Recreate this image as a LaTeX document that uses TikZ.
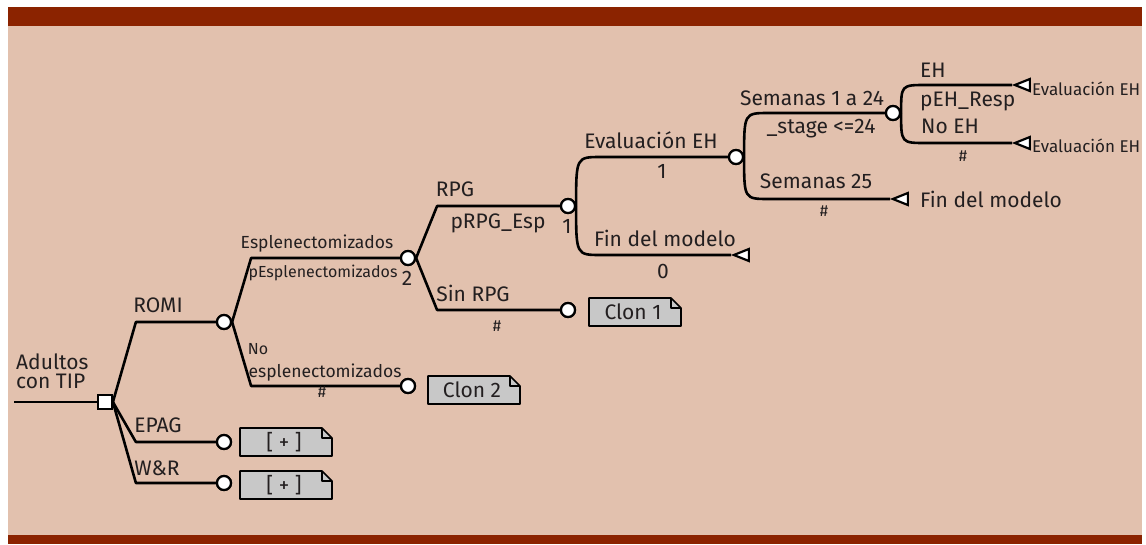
\documentclass[tikz,border=0pt]{standalone}
\usepackage{fontspec}
\setmainfont{Fira Sans}
\usetikzlibrary{shapes.geometric, calc}

\definecolor{framered}{HTML}{8B2300}
\definecolor{bgtan}{HTML}{E2C1AE}
\definecolor{clongray}{HTML}{C8C8C8}
\definecolor{ink}{HTML}{231F20}

\tikzset{
  branch/.style={line width=2.6pt, line join=round, draw=black},
  chance/.style={circle, draw, fill=white, line width=2.2pt, minimum size=14pt, inner sep=0pt},
  decision/.style={rectangle, draw, fill=white, line width=1.8pt, minimum size=14pt, inner sep=0pt},
  terminal/.style={isosceles triangle, isosceles triangle stretches, shape border rotate=180,
    draw, fill=white, line width=2.2pt, minimum width=12pt, minimum height=15pt, inner sep=0pt, anchor=apex},
  % straight elbow: diagonal, then horizontal
  elbow/.style={to path={(\tikztostart.east) -- ([xshift=#1]\tikztostart.east |- \tikztotarget.center) -- (\tikztotarget)}},
  % curved elbow
  bow/.style={to path={(\tikztostart.east) .. controls (\tikztostart.east |- \tikztotarget.center) .. ([xshift=#1]\tikztostart.east |- \tikztotarget.center) -- (\tikztotarget)}},
  lbl/.style={font=\fontsize{21}{23}\selectfont, text=ink, inner sep=0pt, anchor=base},
  lblm/.style={lbl, font=\fontsize{17.5}{19}\selectfont},
  lbls/.style={lbl, font=\fontsize{16}{18}\selectfont},
  lblt/.style={lbl, font=\fontsize{17}{19}\selectfont},
  clonline/.style={draw=black, fill=clongray, line width=1.6pt, line join=round},
}

% clone box: name, position, text
\newcommand{\clonbox}[3]{%
  \coordinate (#1-c) at (#2);
  \filldraw[clonline] ([shift={(-46,14)}]#1-c) -- ([shift={(-46,-14)}]#1-c) -- ([shift={(36,-14)}]#1-c)
    -- ([shift={(46,-4)}]#1-c) -- ([shift={(46,14)}]#1-c) -- cycle;
  \draw[clonline, fill=none] ([shift={(36,-14)}]#1-c) |- ([shift={(46,-4)}]#1-c);
  \node[lbl, anchor=center] (#1) at ([shift={(-2,0)}]#1-c) {#3};}

\begin{document}
\begin{tikzpicture}[x=1pt, y=-1pt]
  \useasboundingbox (0,0) rectangle (1146,544);
  % Frame
  \fill[bgtan] (8,26) rectangle (1142,535);
  \fill[framered] (8,7) rectangle (1142,26);
  \fill[framered] (8,535) rectangle (1142,544);

  % Nodes
  \coordinate (start) at (14,402);
  \node[decision] (dec) at (105,402) {};
  \node[chance] (romi) at (224,322) {};
  \node[chance] (epag) at (224,442) {};
  \node[chance] (wr) at (224,483) {};
  \node[chance] (esp) at (408,258) {};
  \node[chance] (noesp) at (408,386) {};
  \node[chance] (rpg) at (568,206) {};
  \node[chance] (sinrpg) at (568,310) {};
  \node[chance] (ev) at (736,157) {};
  \node[terminal] (fin1) at (731,255) {};
  \node[chance] (sem) at (893,113) {};
  \node[terminal] (fin2) at (890,199) {};
  \node[terminal] (eh) at (1012,85) {};
  \node[terminal] (noeh) at (1012,143) {};

  % Branches
  \draw[branch] (start) -- (dec);
  \foreach \t in {romi, epag, wr} { \draw[branch] (dec) to[elbow=23] (\t); }
  \foreach \t in {esp, noesp} { \draw[branch] (romi) to[elbow=19] (\t); }
  \foreach \t in {rpg, sinrpg} { \draw[branch] (esp) to[elbow=21] (\t); }
  \foreach \t in {ev, fin1} { \draw[branch] (rpg) to[bow=25] (\t); }
  \foreach \t in {sem, fin2} { \draw[branch] (ev) to[bow=25] (\t); }
  \foreach \t in {eh, noeh} { \draw[branch] (sem) to[bow=25] (\t); }
  % redraw node marks on top
  \foreach \n in {romi, epag, wr, esp, noesp, rpg, sinrpg, ev, sem} { \node[chance] at (\n) {}; }
  \node[decision] at (dec) {};

  % Clones
  \clonbox{plus1}{286,442}{[ + ]}
  \clonbox{plus2}{286,485}{[ + ]}
  \clonbox{clon2}{474,390}{Clon 2}
  \clonbox{clon1}{635,312}{Clon 1}

  % Labels
  \node[lbl, anchor=north west, align=left, font=\fontsize{21}{19}\selectfont] (lAd) at (16,354) {Adultos\\con TIP};
  \node[lbl] (lRomi) at (158,312) {ROMI};
  \node[lbl] (lEpag) at (158,432) {EPAG};
  \node[lbl] (lWr) at (157,475) {W\&R};
  \node[lblm] (lEsp) at (317,248) {Esplenectomizados};
  \node[lbls] (pEsp) at (323,277) {pEsplenectomizados};
  \node[lbl] (nEsp) at (407,285) {2};
  \node[lbls] (lNo) at (258,354) {No};
  \node[lblm] (lNoEsp) at (325,377) {esplenectomizados};
  \node[lbls] (hNoEsp) at (322,397) {\#};
  \node[lbl] (lRpg) at (455,196) {RPG};
  \node[lbl] (pRpg) at (498,228) {pRPG\_Esp};
  \node[lbl] (nRpg) at (567,233) {1};
  \node[lbl] (lSin) at (473,301) {Sin RPG};
  \node[lbls] (hSin) at (497,331) {\#};
  \node[lbl] (lEv) at (651,148) {Evaluación EH};
  \node[lbl] (vEv) at (662,178) {1};
  \node[lbl] (lFin1) at (665,246) {Fin del modelo};
  \node[lbl] (vFin1) at (663,278) {0};
  \node[lbl] (lSem) at (812,105) {Semanas 1 a 24};
  \node[lbl] (pSem) at (821,133) {\_stage <=24};
  \node[lbl] (lSem25) at (816,188) {Semanas 25};
  \node[lbls] (hSem25) at (824,216) {\#};
  \node[lbl, anchor=base west] (tFin2) at (920,207) {Fin del modelo};
  \node[lbl, anchor=base west] (lEh) at (920,77) {EH};
  \node[lbl, anchor=base west] (pEh) at (920,106) {pEH\_Resp};
  \node[lbl, anchor=base west] (lNoEh) at (921,133) {No EH};
  \node[lbls] (hNoEh) at (963,161) {\#};
  \node[lblt, anchor=base west] (tEh) at (1032,95) {Evaluación EH};
  \node[lblt, anchor=base west] (tNoEh) at (1032,152) {Evaluación EH};
\end{tikzpicture}
\end{document}
